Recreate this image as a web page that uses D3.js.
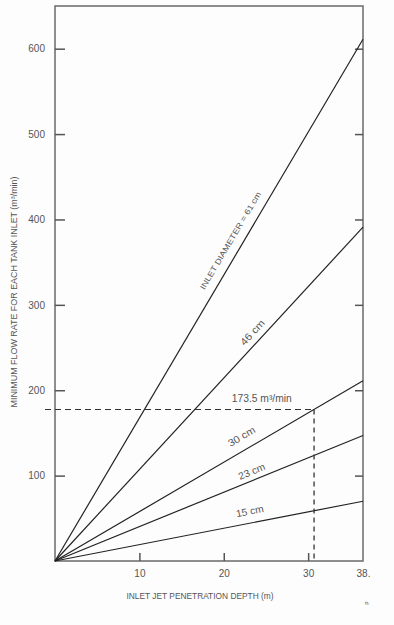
<!DOCTYPE html>
<html>
<head>
<meta charset="utf-8">
<script src="https://cdn.jsdelivr.net/npm/d3@7"></script>
<style>
  html, body { margin: 0; padding: 0; background: #fdfdfe; }
  svg { display: block; }
  text { font-family: "Liberation Sans", Arial, sans-serif; fill: #555; }
</style>
</head>
<body>
<svg id="chart" width="394" height="625"></svg>
<script>
// ---- data ----
const diameters = ["15 cm", "23 cm", "30 cm", "46 cm", "61 cm"];
const depthMax = 36.5;                       // right edge of the depth axis
const flowAtMaxDepth = [70, 147, 211, 391, 611];
const xTickValues = [10, 20, 30, 36.5];
const xTickLabels = ["10", "20", "30", "38."];
const yTickValues = [100, 200, 300, 400, 500, 600];
const designFlow = 177.5;
const designDepth = 30.7;
const lineLabels = ["15 cm", "23 cm", "30 cm", "46 cm", "INLET DIAMETER = 61 cm"];
const labelDepth = [23.1, 23.35, 22.16, 23.47, 20.86];
const labelFlow = [57.4, 104, 145, 267, 374.8];
const designLabel = "173.5 m\u00B3/min";
const designLabelPos = [24.5, 189.7];

// ---- layout ----
const svg = d3.select("#chart");
const mLeft = 55, mRight = 363, mTop = 6, mBottom = 561;
const x = d3.scaleLinear().domain([0, depthMax]).range([mLeft, mRight]);
const y = d3.scaleLinear().domain([0, 650]).range([mBottom, mTop]);

// frame
svg.append("rect").attr("x", mLeft).attr("y", mTop)
  .attr("width", mRight - mLeft).attr("height", mBottom - mTop)
  .attr("fill", "none").attr("stroke", "#6a6a6a").attr("stroke-width", 1.5);

// left axis (ticks inward)
const yAxisL = d3.axisLeft(y).tickValues(yTickValues).tickSize(-10).tickPadding(10);
const gL = svg.append("g").attr("transform", `translate(${mLeft},0)`).call(yAxisL);
gL.select(".domain").remove();
gL.selectAll(".tick line").attr("stroke", "#555").attr("stroke-width", 1.5);
gL.selectAll(".tick text").attr("font-size", 10).attr("fill", "#666")
  .attr("font-family", "Liberation Sans, Arial, sans-serif");

// right axis ticks (inward, no labels)
const yAxisR = d3.axisRight(y).tickValues(yTickValues).tickSize(-8).tickFormat("");
const gR = svg.append("g").attr("transform", `translate(${mRight},0)`).call(yAxisR);
gR.select(".domain").remove();
gR.selectAll(".tick line").attr("stroke", "#555").attr("stroke-width", 1.5);

// bottom axis (ticks upward)
const xAxis = d3.axisBottom(x).tickValues(xTickValues).tickSize(-8).tickPadding(9)
  .tickFormat((d, i) => xTickLabels[i]);
const gB = svg.append("g").attr("transform", `translate(0,${mBottom})`).call(xAxis);
gB.select(".domain").remove();
gB.selectAll(".tick line").attr("stroke", "#555").attr("stroke-width", 1.5)
  .attr("opacity", (d) => d === depthMax ? 0 : 1);
gB.selectAll(".tick text").attr("font-size", 10).attr("fill", "#666")
  .attr("font-family", "Liberation Sans, Arial, sans-serif");

// diameter lines
const lineGen = d3.line().x(d => x(d[0])).y(d => y(d[1]));
flowAtMaxDepth.forEach((v, i) => {
  svg.append("path")
    .datum([[0, 0], [depthMax, v]])
    .attr("d", lineGen)
    .attr("fill", "none").attr("stroke", "#222").attr("stroke-width", 1.2);
});

// design point dashed lines
svg.append("line")
  .attr("x1", x(0) - 10).attr("y1", y(designFlow))
  .attr("x2", x(designDepth)).attr("y2", y(designFlow))
  .attr("stroke", "#333").attr("stroke-width", 1.1).attr("stroke-dasharray", "6,4");
svg.append("line")
  .attr("x1", x(designDepth)).attr("y1", y(designFlow))
  .attr("x2", x(designDepth)).attr("y2", y(0))
  .attr("stroke", "#333").attr("stroke-width", 1.3).attr("stroke-dasharray", "5,4");

// line labels, rotated along each line
const labelLengths = [28, 28, 30, 31, 112];
flowAtMaxDepth.forEach((v, i) => {
  const ang = Math.atan2(y(v) - y(0), x(depthMax) - x(0)) * 180 / Math.PI;
  const px = x(labelDepth[i]), py = y(labelFlow[i]);
  svg.append("text")
    .attr("transform", `translate(${px},${py}) rotate(${ang})`)
    .attr("text-anchor", "middle").attr("dominant-baseline", "middle")
    .attr("font-size", i === 4 ? 8 : 10)
    .attr("textLength", labelLengths[i]).attr("lengthAdjust", "spacingAndGlyphs")
    .text(lineLabels[i]);
});

// design label
svg.append("text")
  .attr("x", x(designLabelPos[0])).attr("y", y(designLabelPos[1]))
  .attr("text-anchor", "middle").attr("dominant-baseline", "middle")
  .attr("font-size", 10)
  .attr("textLength", 60).attr("lengthAdjust", "spacingAndGlyphs")
  .text(designLabel);

// axis titles
svg.append("text")
  .attr("transform", `translate(15,292) rotate(-90)`)
  .attr("text-anchor", "middle").attr("dominant-baseline", "middle")
  .attr("font-size", 8.5)
  .attr("textLength", 231).attr("lengthAdjust", "spacingAndGlyphs")
  .text("MINIMUM FLOW RATE FOR EACH TANK INLET (m\u00B3/min)");

svg.append("text")
  .attr("x", 200).attr("y", 597)
  .attr("text-anchor", "middle").attr("dominant-baseline", "middle")
  .attr("font-size", 8.5)
  .attr("textLength", 147).attr("lengthAdjust", "spacingAndGlyphs")
  .text("INLET JET PENETRATION DEPTH (m)");

svg.append("text")
  .attr("transform", "translate(366,603) rotate(-90)")
  .attr("text-anchor", "middle").attr("dominant-baseline", "middle")
  .attr("font-size", 6).attr("fill", "#888")
  .text("p");
</script>
</body>
</html>
